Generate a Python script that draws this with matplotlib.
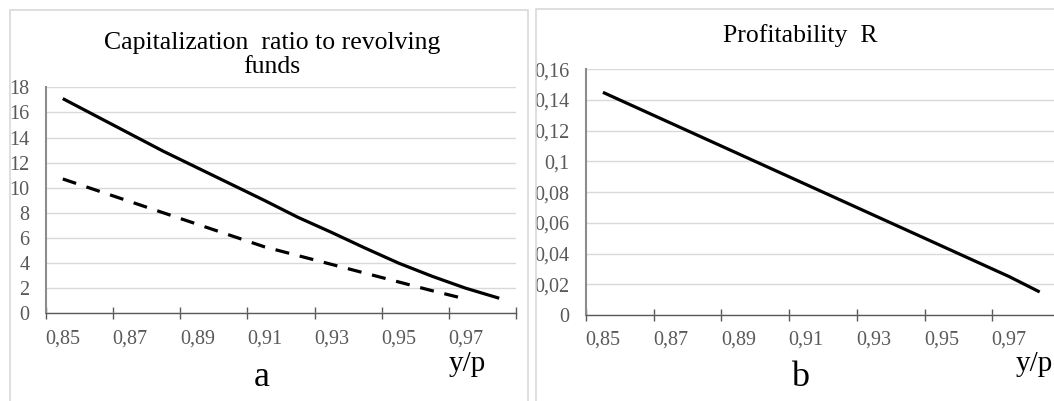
import matplotlib
matplotlib.use('Agg')
import matplotlib.pyplot as plt
import matplotlib.transforms as mtransforms
from matplotlib.patches import Rectangle

plt.rcParams['font.family'] = ['Liberation Serif', 'DejaVu Serif']

# ---- data ----
x_cap = [0.855, 0.865, 0.875, 0.885, 0.895, 0.905, 0.915, 0.925, 0.935, 0.945,
         0.955, 0.965, 0.975, 0.985]
cap_solid = [17.1, 15.7, 14.3, 12.9, 11.6, 10.3, 9.0, 7.65, 6.45, 5.2,
             4.0, 2.95, 2.0, 1.2]
x_dash = [0.855, 0.865, 0.875, 0.885, 0.895, 0.905, 0.915, 0.925, 0.935, 0.945,
          0.955, 0.965, 0.975]
cap_dash = [10.7, 9.8, 8.9, 8.0, 7.1, 6.2, 5.3, 4.6, 3.9, 3.2, 2.5, 1.8, 1.14]
x_prof = [0.855, 0.865, 0.875, 0.885, 0.895, 0.905, 0.915, 0.925, 0.935, 0.945,
          0.955, 0.965, 0.975, 0.984]
prof = [0.145, 0.135, 0.125, 0.115, 0.105, 0.095, 0.085, 0.075, 0.065, 0.055,
        0.045, 0.035, 0.025, 0.015]
xticks = [0.85, 0.87, 0.89, 0.91, 0.93, 0.95, 0.97, 0.99]
xtick_labels = ['0,85', '0,87', '0,89', '0,91', '0,93', '0,95', '0,97', '']
cap_yticks = [0, 2, 4, 6, 8, 10, 12, 14, 16, 18]
prof_yticks = [0, 0.02, 0.04, 0.06, 0.08, 0.10, 0.12, 0.14, 0.16]
title_a = 'Capitalization  ratio to revolving\nfunds'
title_b = 'Profitability  R'

W, H = 1054, 401
fig = plt.figure(figsize=(W / 100, H / 100), dpi=100)

# panel frames
fig.add_artist(Rectangle((10 / W, -0.05), 518 / W, 1 - 10 / H + 0.05,
                         transform=fig.transFigure, fill=False,
                         ec='#d9d9d9', lw=1.2))
fig.add_artist(Rectangle((536 / W, -0.05), 0.6, 1 - 9 / H + 0.05,
                         transform=fig.transFigure, fill=False,
                         ec='#d9d9d9', lw=1.2))

def fmt(v):
    return ('%g' % v).replace('.', ',')

def style(ax, yticks):
    ax.set_xlim(0.85, 0.99)
    ax.set_xticks(xticks)
    ax.set_xticklabels(xtick_labels)
    ax.set_yticks(yticks)
    ax.set_yticklabels([fmt(v) for v in yticks])
    ax.set_ylim(yticks[0], yticks[-1])
    for s in ('top', 'right'):
        ax.spines[s].set_visible(False)
    ax.spines['left'].set_color('#8c8c8c')
    ax.spines['left'].set_linewidth(1.5)
    ax.spines['bottom'].set_color('#595959')
    ax.spines['bottom'].set_linewidth(1.0)
    ax.yaxis.grid(True, color='#d9d9d9', lw=1.0)
    ax.set_axisbelow(True)
    ax.tick_params(axis='x', direction='inout', length=9, width=1,
                   color='#595959', labelsize=14.5, labelcolor='#595959', pad=7)
    ax.tick_params(axis='y', length=0, labelsize=14.5, labelcolor='#595959', pad=12)
    off = mtransforms.ScaledTranslation(17 / 100, 0, fig.dpi_scale_trans)
    for lab in ax.get_xticklabels():
        lab.set_transform(lab.get_transform() + off)

# left panel
ax1 = fig.add_axes([46 / W, 1 - 313.3 / H, 470 / W, 226 / H])
ax1.plot(x_cap, cap_solid, color='black', lw=2.3, solid_capstyle='butt')
ax1.plot(x_dash, cap_dash, color='black', lw=2.3, dashes=(4.4, 3.4),
         dash_capstyle='butt')
style(ax1, cap_yticks)

# right panel
ax2 = fig.add_axes([586 / W, 1 - 315 / H, 474 / W, 245.7 / H])
ax2.plot(x_prof, prof, color='black', lw=2.3, solid_capstyle='butt')
style(ax2, prof_yticks)

# titles and labels
fig.text(272 / W, 1 - 55 / H, title_a, ha='center', va='center',
         fontsize=18.5, linespacing=1.12, color='black')
fig.text(800 / W, 1 - 36 / H, title_b, ha='center', va='center',
         fontsize=18.5, color='black')
fig.text(262 / W, 1 - 378 / H, 'a', ha='center', va='center', fontsize=26)
fig.text(800 / W, 1 - 378 / H, 'b', ha='center', va='center', fontsize=26)
fig.text(467 / W, 1 - 364 / H, 'y/p', ha='center', va='center', fontsize=21)
fig.text(1034 / W, 1 - 364 / H, 'y/p', ha='center', va='center', fontsize=21)

fig.savefig('out.png', dpi=100)
